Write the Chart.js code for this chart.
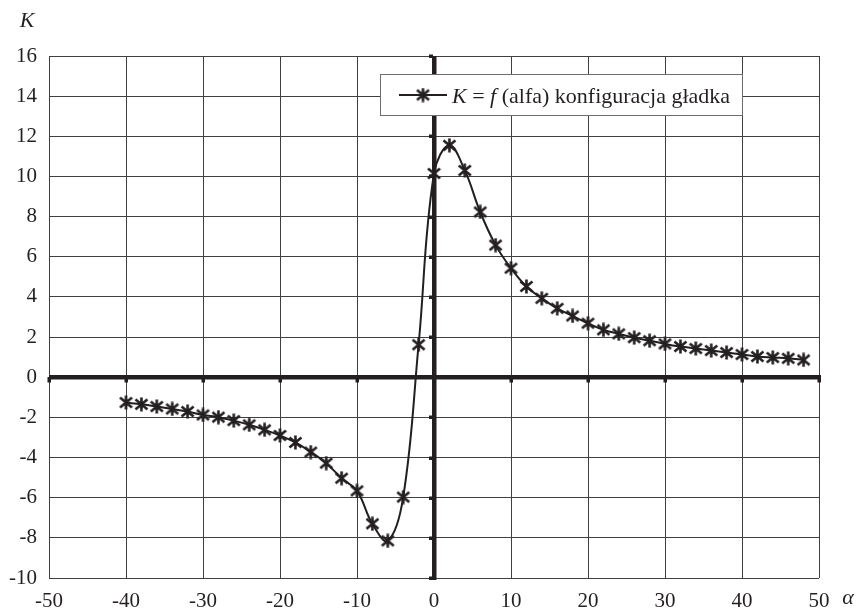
<!DOCTYPE html>
<html>
<head>
<meta charset="utf-8">
<script src="https://cdn.jsdelivr.net/npm/chart.js@4/dist/chart.umd.min.js"></script>
<style>
  html, body { margin: 0; padding: 0; background: #ffffff; }
  #wrap { width: 861px; height: 611px; }
</style>
</head>
<body>
<div id="wrap"><canvas id="c" width="861" height="611"></canvas></div>
<script>
// ---- data ----
const alpha = [-40, -38, -36, -34, -32, -30, -28, -26, -24, -22, -20, -18, -16, -14, -12, -10, -8, -6, -4, -2,
               0, 2, 4, 6, 8, 10, 12, 14, 16, 18, 20, 22, 24, 26, 28, 30, 32, 34, 36, 38, 40, 42, 44, 46, 48];
const K = [-1.26, -1.35, -1.46, -1.58, -1.71, -1.88, -1.99, -2.16, -2.37, -2.62, -2.9, -3.25, -3.73, -4.28, -5.03, -5.66, -7.3, -8.15, -5.97, 1.62,
           10.15, 11.55, 10.3, 8.23, 6.58, 5.43, 4.52, 3.93, 3.43, 3.05, 2.69, 2.36, 2.16, 1.97, 1.82, 1.66, 1.53, 1.43, 1.33, 1.23, 1.13, 1.03, 0.98, 0.94, 0.86];
const xTicks = [-50, -40, -30, -20, -10, 0, 10, 20, 30, 40, 50];
const yTicks = [-10, -8, -6, -4, -2, 0, 2, 4, 6, 8, 10, 12, 14, 16];
const seriesLabel = 'K = f (alfa) konfiguracja gładka';
const xTitle = 'α';
const yTitle = 'K';

const INK = '#231f20';
const SERIF = '"Liberation Serif", "DejaVu Serif", serif';

function makeStar(size, lw) {
  const c = document.createElement('canvas');
  c.width = size; c.height = size;
  const g = c.getContext('2d');
  g.strokeStyle = INK; g.lineWidth = lw; g.lineCap = 'butt';
  const m = 1.5, h = size / 2;
  g.beginPath();
  g.moveTo(m, m + 1); g.lineTo(size - m, size - m - 1);
  g.moveTo(size - m, m + 1); g.lineTo(m, size - m - 1);
  g.moveTo(h, 0.5); g.lineTo(h, size - 0.5);
  g.stroke();
  return c;
}
const star = makeStar(15, 2.6);

const axesPlugin = {
  id: 'axesPlugin',
  beforeDatasetsDraw(chart) {
    const { ctx, chartArea: a, scales: { x, y } } = chart;
    const x0 = Math.round(x.getPixelForValue(0));
    const y0 = Math.round(y.getPixelForValue(0));
    ctx.save();
    ctx.fillStyle = INK;
    // thick axes
    ctx.fillRect(a.left, y0 - 2, a.right - a.left + 2, 4.5);
    ctx.fillRect(x0 - 2, a.top, 4.5, a.bottom - a.top + 2);
    // small tick marks
    xTicks.forEach(v => {
      const px = Math.round(x.getPixelForValue(v));
      ctx.fillRect(px - 1.5, y0, 3.5, 5.5);
    });
    yTicks.forEach(v => {
      const py = Math.round(y.getPixelForValue(v));
      ctx.fillRect(x0 - 5, py - 1.5, 4, 3.5);
    });
    ctx.restore();
  },
  afterDatasetsDraw(chart) {
    const { ctx } = chart;
    ctx.save();
    // legend box
    const bx = 380.5, by = 74.5, bw = 362, bh = 41;
    ctx.fillStyle = '#ffffff';
    ctx.fillRect(bx, by, bw, bh);
    ctx.strokeStyle = '#6d6d6d';
    ctx.lineWidth = 1;
    ctx.strokeRect(bx, by, bw, bh);
    // sample line + marker
    const ly = 95;
    ctx.strokeStyle = INK;
    ctx.lineWidth = 2;
    ctx.beginPath();
    ctx.moveTo(399, ly); ctx.lineTo(447, ly);
    ctx.stroke();
    ctx.drawImage(star, 423 - 7.5, ly - 7.5);
    // legend text with italics
    ctx.fillStyle = INK;
    ctx.textBaseline = 'alphabetic';
    ctx.textAlign = 'left';
    const parts = [
      ['K', true], [' = ', false], ['f', true], [' (alfa) konfiguracja gładka', false]
    ];
    let tx = 452;
    const base = 103;
    parts.forEach(([t, it]) => {
      ctx.font = (it ? 'italic ' : '') + '22px ' + SERIF;
      ctx.fillText(t, tx, base);
      tx += ctx.measureText(t).width;
    });
    // axis titles
    ctx.font = 'italic 22px ' + SERIF;
    ctx.textAlign = 'center';
    ctx.textBaseline = 'middle';
    ctx.fillText(yTitle, 27, 21);
    ctx.fillText(xTitle, 848, 598);
    ctx.restore();
  }
};

new Chart(document.getElementById('c'), {
  type: 'line',
  data: {
    datasets: [{
      label: seriesLabel,
      data: alpha.map((a, i) => ({ x: a, y: K[i] })),
      borderColor: INK,
      borderWidth: 2,
      tension: 0.4,
      pointStyle: star,
      pointRadius: 7.5,
      fill: false
    }]
  },
  options: {
    responsive: false,
    animation: false,
    devicePixelRatio: 1,
    layout: { padding: { top: 56, right: 42, left: 0, bottom: 0 } },
    plugins: { legend: { display: false }, tooltip: { enabled: false } },
    scales: {
      x: {
        type: 'linear',
        min: -50, max: 50,
        afterBuildTicks(s) { s.ticks = xTicks.map(v => ({ value: v })); },
        afterFit(s) { s.height = 33; },
        ticks: { color: INK, font: { family: SERIF, size: 21 }, padding: 11, maxRotation: 0,
                 callback: v => String(v) },
        grid: { color: '#404040', lineWidth: 1, drawTicks: false },
        border: { display: false }
      },
      y: {
        min: -10, max: 16,
        afterBuildTicks(s) { s.ticks = yTicks.map(v => ({ value: v })); },
        afterFit(s) { s.width = 49; },
        ticks: { color: INK, font: { family: SERIF, size: 21 }, padding: 12,
                 callback: v => String(v) },
        grid: { color: '#404040', lineWidth: 1, drawTicks: false },
        border: { display: false }
      }
    }
  },
  plugins: [axesPlugin]
});
</script>
</body>
</html>
